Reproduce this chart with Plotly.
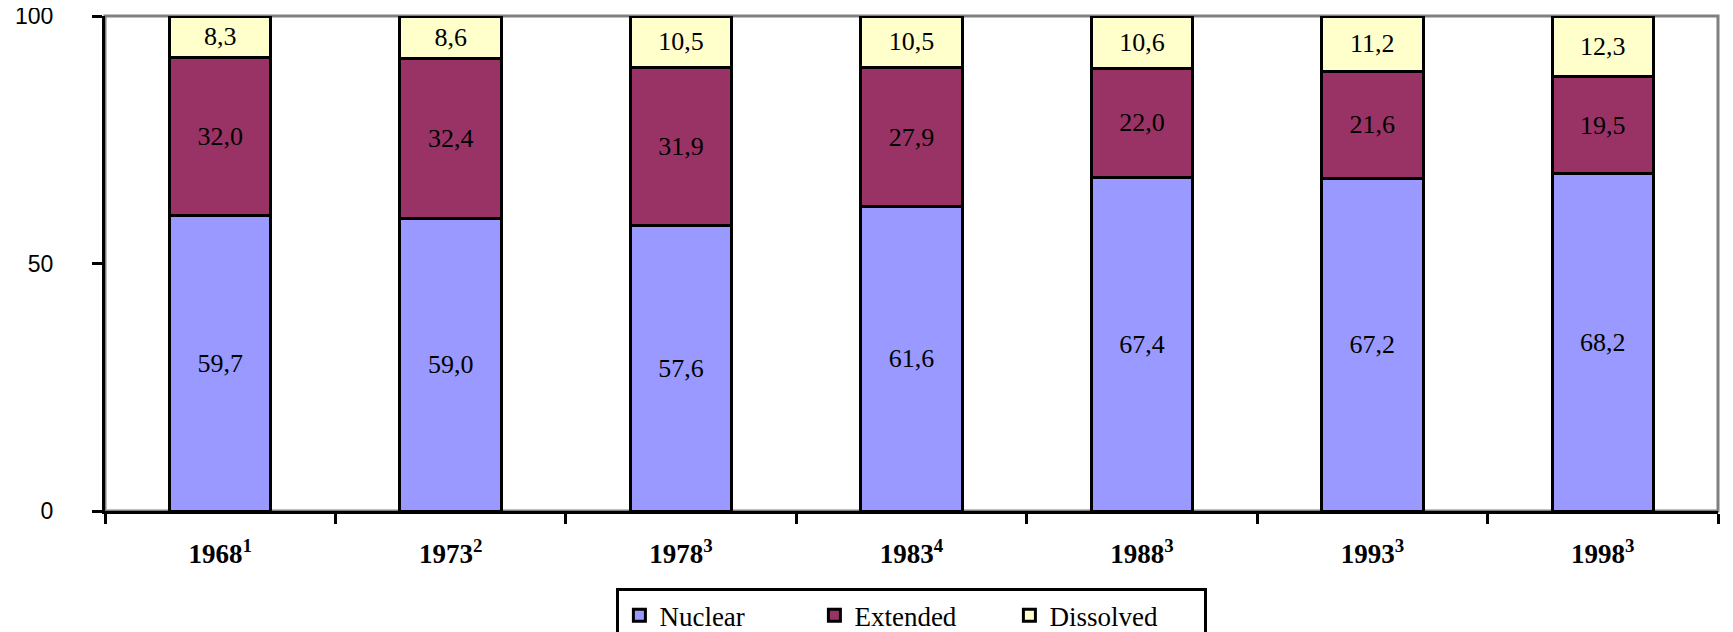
import plotly.graph_objects as go

years = ["1968<sup>1</sup>", "1973<sup>2</sup>", "1978<sup>3</sup>", "1983<sup>4</sup>",
         "1988<sup>3</sup>", "1993<sup>3</sup>", "1998<sup>3</sup>"]
nuclear = [59.7, 59.0, 57.6, 61.6, 67.4, 67.2, 68.2]
extended = [32.0, 32.4, 31.9, 27.9, 22.0, 21.6, 19.5]
dissolved = [8.3, 8.6, 10.5, 10.5, 10.6, 11.2, 12.3]

series = [("Nuclear", nuclear, "#9999FF"),
          ("Extended", extended, "#993366"),
          ("Dissolved", dissolved, "#FFFFCC")]


def fmt(v):
    # comma decimal as in the original
    return f"{v:.1f}".replace(".", ",")


fig = go.Figure()
for name, vals, col in series:
    fig.add_trace(go.Bar(
        x=years, y=vals, name=name,
        marker=dict(color=col, line=dict(color="black", width=3)),
        text=[fmt(v) for v in vals], textposition="inside",
        insidetextanchor="middle", textangle=0,
        textfont=dict(family="Liberation Serif", size=26, color="black"),
    ))

# page body has an 8px margin, so the figure is a bit smaller than the window
fig.update_layout(
    barmode="stack", bargap=0.56,
    width=1725, height=624,
    margin=dict(l=97, r=15, t=8, b=121),
    plot_bgcolor="white", paper_bgcolor="white",
    uniformtext=dict(mode="show", minsize=10),
    legend=dict(orientation="h", xref="container", yref="container",
                x=0.524, xanchor="center", y=0.07, yanchor="top",
                bordercolor="black", borderwidth=3, entrywidth=150,
                font=dict(family="Liberation Serif", size=27, color="black"),
                traceorder="normal"),
    shapes=[dict(type="rect", xref="paper", yref="paper", x0=0, x1=1, y0=0, y1=1,
                 line=dict(color="#808080", width=3), layer="below")],
)
fig.update_xaxes(showline=True, linecolor="black", linewidth=3, automargin=False,
                 ticks="outside", tickson="boundaries", ticklen=10, tickwidth=3, tickcolor="black",
                 ticklabelstandoff=17,
                 tickfont=dict(family="Liberation Serif", size=27, color="black", weight="bold"),
                 showgrid=False)
fig.update_yaxes(range=[0, 100], tickvals=[0, 50, 100], showline=True, linecolor="black", linewidth=3,
                 automargin=False, ticklabeloverflow="allow",
                 ticks="outside", ticklen=10, tickwidth=3, tickcolor="black",
                 ticklabelstandoff=34,
                 tickfont=dict(family="Liberation Sans", size=23, color="black"),
                 showgrid=False, zeroline=False)

fig.write_html("out.html")
